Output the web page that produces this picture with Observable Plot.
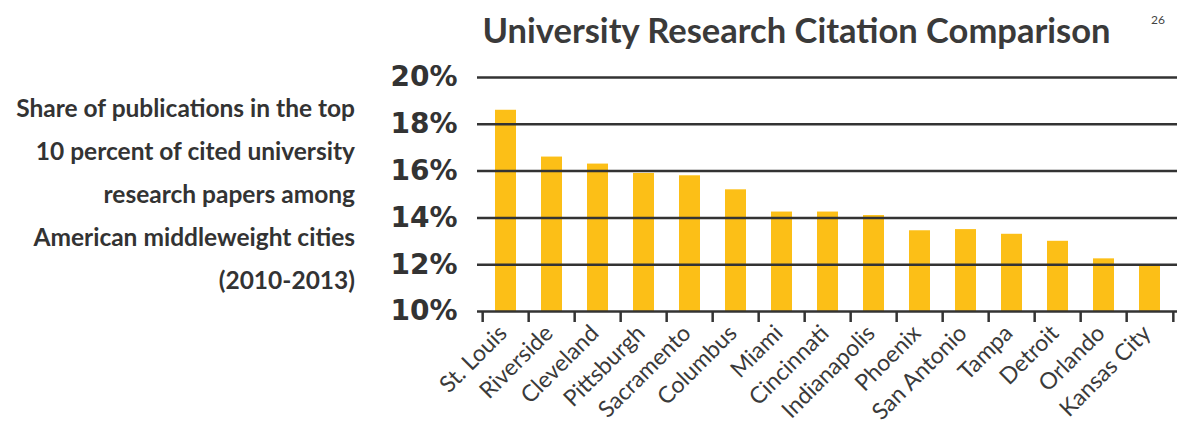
<!DOCTYPE html>
<html><head><meta charset="utf-8">
<script src="https://cdn.jsdelivr.net/npm/d3@7"></script>
<script src="https://cdn.jsdelivr.net/npm/@observablehq/plot@0.6"></script>
<style>
body{margin:0;background:#fff;}
#wrap{position:relative;width:1177px;height:424px;overflow:hidden;background:#fff;}
#chart{position:absolute;left:0;top:0;}
#title{position:absolute;left:0;width:1177px;padding-left:416px;box-sizing:border-box;text-align:center;top:10px;line-height:40px;font-family:Lato,sans-serif;font-weight:700;font-size:34.5px;color:#3a3a3a;white-space:nowrap;}
#page{position:absolute;left:1151px;top:12px;font-family:Lato,sans-serif;font-size:12px;color:#444;}
#desc{position:absolute;left:0;top:86px;width:355px;text-align:right;line-height:43px;font-family:Lato,sans-serif;font-weight:700;font-size:24.5px;color:#333;white-space:nowrap;}
</style></head><body>
<div id="wrap"><div id="chart"></div>
<div id="title">University Research Citation Comparison</div>
<div id="page">26</div>
<div id="desc"></div>
</div>
<script>
const cities = ["St. Louis","Riverside","Cleveland","Pittsburgh","Sacramento","Columbus","Miami","Cincinnati","Indianapolis","Phoenix","San Antonio","Tampa","Detroit","Orlando","Kansas City"];
const shares = [18.6, 16.6, 16.3, 15.9, 15.8, 15.2, 14.25, 14.25, 14.1, 13.45, 13.5, 13.3, 13.0, 12.25, 12.0];
const yTicks = [10, 12, 14, 16, 18, 20];
const descLines = ["Share of publications in the top","10 percent of cited university","research papers among","American middleweight cities","(2010-2013)"];

document.getElementById("desc").innerHTML = descLines.join("<br>");

const data = cities.map((c, i) => ({city: c, share: shares[i]}));
const W = 1177, ML = 477, MR = 0;
const step = (W - ML - MR) / cities.length;

const chart = Plot.plot({
  width: W, height: 424,
  marginTop: 77, marginBottom: 113, marginLeft: ML, marginRight: MR,
  style: {background: "transparent", overflow: "visible"},
  x: {domain: cities, paddingInner: 0.55, paddingOuter: 0.275, axis: null, label: null},
  y: {domain: [yTicks[0], yTicks[yTicks.length - 1]], axis: null, label: null},
  marks: [
    Plot.barY(data, {x: "city", y1: yTicks[0], y2: "share", fill: "#fcbf17"}),
    Plot.ruleY(yTicks, {stroke: "#333", strokeWidth: 2.5}),
    Plot.axisY(yTicks, {label: null, tickSize: 0, tickPadding: 20, tickFormat: d => d + "%", fontSize: 28, fontWeight: "bold", fontFamily: "DejaVu Sans", fill: "#333"}),
    Plot.axisX(cities, {label: null, tickSize: 11, dx: -step / 2, text: null, stroke: "#333", strokeWidth: 2.5}),
    Plot.axisX([cities[cities.length - 1]], {label: null, tickSize: 11, dx: step / 2, text: null, stroke: "#333", strokeWidth: 2.5}),
    Plot.axisX(cities, {label: null, tickSize: 0, tickPadding: 8, tickRotate: -45, dx: -3, dy: 10, fontSize: 23, fontFamily: "Lato", fill: "#3a3a3a"})
  ]
});
document.getElementById("chart").appendChild(chart);
</script>
</body></html>
